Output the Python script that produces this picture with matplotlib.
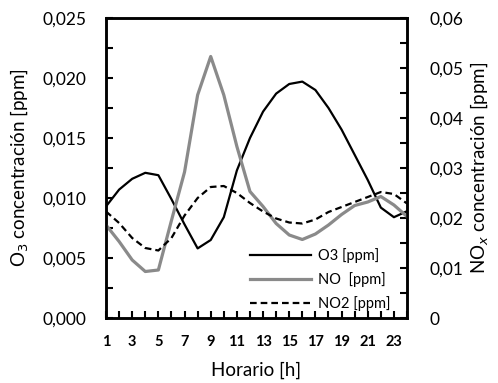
import numpy as np
import matplotlib.pyplot as plt
from matplotlib.ticker import MultipleLocator, FuncFormatter

plt.rcParams['font.family'] = ['Lato', 'DejaVu Sans']

# hourly values
hours = list(range(1, 25))
o3 = [0.0093, 0.0107, 0.0116, 0.0121, 0.0119, 0.0099, 0.0078, 0.0058, 0.0065, 0.0084,
      0.0123, 0.0150, 0.0172, 0.0187, 0.0195, 0.0197, 0.0190, 0.0175, 0.0157, 0.0136,
      0.0115, 0.0092, 0.0084, 0.0089]
no = [0.0186, 0.0153, 0.0116, 0.0093, 0.0096, 0.0195, 0.0292, 0.0446, 0.0523, 0.0446,
      0.0343, 0.0253, 0.0223, 0.0189, 0.0166, 0.0157, 0.0168, 0.0186, 0.0207, 0.0225,
      0.0232, 0.0243, 0.0226, 0.0203]
no2 = [0.0213, 0.0190, 0.0160, 0.0140, 0.0135, 0.0160, 0.0205, 0.0240, 0.0262, 0.0264,
       0.0250, 0.0230, 0.0213, 0.0199, 0.0191, 0.0189, 0.0197, 0.0212, 0.0222, 0.0232,
       0.0242, 0.0252, 0.0248, 0.0229]

fig = plt.figure(figsize=(4.98, 3.83), dpi=100)
ax = fig.add_axes([0.2129, 0.1697, 0.6044, 0.7833])
ax2 = ax.twinx()

l1, = ax.plot(hours, o3, color='black', lw=1.6, label='O3 [ppm]')
l2, = ax2.plot(hours, no, color='#8a8a8a', lw=2.3, label='NO  [ppm]')
l3, = ax2.plot(hours, no2, color='black', lw=1.6, ls=(0, (3, 1.8)), label='NO2 [ppm]')

ax.set_xlim(1, 24)
ax.set_ylim(0, 0.025)
ax2.set_ylim(0, 0.06)

ax.set_xticks(range(1, 24, 2))
ax.xaxis.set_minor_locator(MultipleLocator(1))
ax.yaxis.set_major_locator(MultipleLocator(0.005))
ax.yaxis.set_minor_locator(MultipleLocator(0.0025))
ax2.yaxis.set_major_locator(MultipleLocator(0.01))
ax2.yaxis.set_minor_locator(MultipleLocator(0.005))

ax.yaxis.set_major_formatter(FuncFormatter(lambda v, p: f'{v:.3f}'.replace('.', ',')))
ax2.yaxis.set_major_formatter(FuncFormatter(lambda v, p: '0' if abs(v) < 1e-9 else f'{v:.2f}'.replace('.', ',')))

for a in (ax, ax2):
    a.tick_params(which='both', direction='in', width=1.5, length=5, labelsize=12.5)
    for s in a.spines.values():
        s.set_linewidth(1.8)
ax.tick_params(axis='y', pad=14)
ax2.tick_params(which='both', right=True, left=False, pad=16)
ax.tick_params(which='both', right=False)
ax.tick_params(axis='x', labelsize=10.5, pad=12)
for t in ax.get_xticklabels():
    t.set_fontweight('bold')

ax.set_xlabel('Horario [h]', fontsize=13.5, labelpad=9)
ax.set_ylabel('O$_3$ concentración [ppm]', fontsize=13.5, labelpad=9)
ax2.set_ylabel('NO$_x$ concentración [ppm]', fontsize=13.5, labelpad=4, rotation=90)

leg = ax.legend(handles=[l1, l2, l3], loc='lower right', bbox_to_anchor=(0.99, -0.02),
                frameon=False, fontsize=10.5, handlelength=4.2, handletextpad=0.5,
                labelspacing=0.62)

fig.savefig('out.png', dpi=100)
